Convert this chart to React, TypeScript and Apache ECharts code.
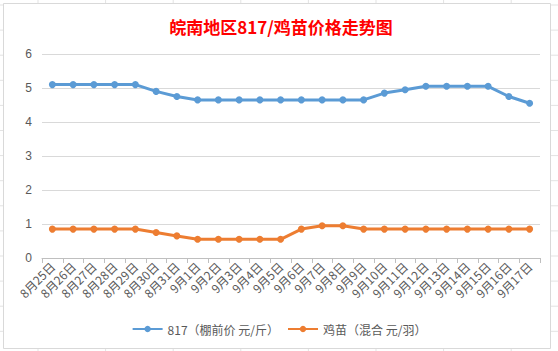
import React, { useEffect, useRef } from "react";
import * as echarts from "echarts";

const categories = [
  "8月25日", "8月26日", "8月27日", "8月28日", "8月29日", "8月30日", "8月31日",
  "9月1日", "9月2日", "9月3日", "9月4日", "9月5日", "9月6日", "9月7日", "9月8日",
  "9月9日", "9月10日", "9月11日", "9月12日", "9月13日", "9月14日", "9月15日",
  "9月16日", "9月17日",
];
const price817 = [
  5.1, 5.1, 5.1, 5.1, 5.1, 4.9, 4.75, 4.65, 4.65, 4.65, 4.65, 4.65, 4.65, 4.65,
  4.65, 4.65, 4.85, 4.95, 5.05, 5.05, 5.05, 5.05, 4.75, 4.55,
];
const priceChick = [
  0.85, 0.85, 0.85, 0.85, 0.85, 0.75, 0.65, 0.55, 0.55, 0.55, 0.55, 0.55, 0.85,
  0.95, 0.95, 0.85, 0.85, 0.85, 0.85, 0.85, 0.85, 0.85, 0.85, 0.85,
];
const seriesNames = ["817（棚前价 元/斤）", "鸡苗（混合 元/羽）"];
const titleText = "皖南地区817/鸡苗价格走势图";

export default function App() {
  const ref = useRef<HTMLDivElement>(null);
  useEffect(() => {
    if (!ref.current) return;
    const chart = echarts.init(ref.current, null, { renderer: "svg" });
    const bg: any[] = [];
    for (let x = 38; x < 558; x += 67.6) {
      bg.push({ type: "line", z: -20, silent: true, shape: { x1: x, y1: 0, x2: x, y2: 351 }, style: { stroke: "#e3e3e3", lineWidth: 1 } });
    }
    for (let y = 5; y < 351; y += 25.1) {
      bg.push({ type: "line", z: -20, silent: true, shape: { x1: 0, y1: y, x2: 558, y2: y }, style: { stroke: "#e3e3e3", lineWidth: 1 } });
    }
    bg.push({
      type: "rect", z: -10, silent: true,
      shape: { x: 3.5, y: 3.5, width: 547, height: 345 },
      style: { fill: "#ffffff", stroke: "#d9d9d9", lineWidth: 1 },
    });
    chart.setOption({
      animation: false,
      backgroundColor: "#ffffff",
      graphic: bg,
      title: {
        text: titleText,
        left: 276,
        textAlign: "center",
        top: 13,
        textStyle: {
          color: "#FF0000",
          fontSize: 17,
          fontWeight: "bold",
          fontFamily: "Noto Sans CJK SC",
        },
      },
      legend: {
        data: seriesNames,
        bottom: 11,
        left: "center",
        itemWidth: 30,
        itemHeight: 8,
        itemGap: 8,
        textStyle: { color: "#595959", fontSize: 12, fontFamily: "Noto Sans CJK SC" },
      },
      grid: { left: 42, right: 18, top: 54, bottom: 93 },
      xAxis: {
        type: "category",
        data: categories,
        boundaryGap: true,
        axisLine: { lineStyle: { color: "#bfbfbf" } },
        axisTick: { show: true, length: 5, lineStyle: { color: "#bfbfbf" } },
        axisLabel: {
          rotate: 45,
          interval: 0,
          color: "#595959",
          fontSize: 12,
          margin: 6,
          fontFamily: "Noto Sans CJK SC",
        },
      },
      yAxis: {
        type: "value",
        min: 0,
        max: 6,
        interval: 1,
        axisLine: { show: false },
        axisTick: { show: false },
        splitLine: { lineStyle: { color: "#d9d9d9" } },
        axisLabel: { color: "#595959", fontSize: 12, margin: 10, fontFamily: "Liberation Sans" },
      },
      series: [
        {
          name: seriesNames[0],
          type: "line",
          data: price817,
          symbol: "circle",
          symbolSize: 7,
          color: "#5B9BD5",
          lineStyle: { width: 3, color: "#5B9BD5" },
          itemStyle: { color: "#5B9BD5" },
        },
        {
          name: seriesNames[1],
          type: "line",
          data: priceChick,
          symbol: "circle",
          symbolSize: 7,
          color: "#ED7D31",
          lineStyle: { width: 3, color: "#ED7D31" },
          itemStyle: { color: "#ED7D31" },
        },
      ],
    });
    return () => chart.dispose();
  }, []);
  return (
    <div
      ref={ref}
      style={{ position: "fixed", left: 0, top: 0, width: 558, height: 351 }}
    />
  );
}
